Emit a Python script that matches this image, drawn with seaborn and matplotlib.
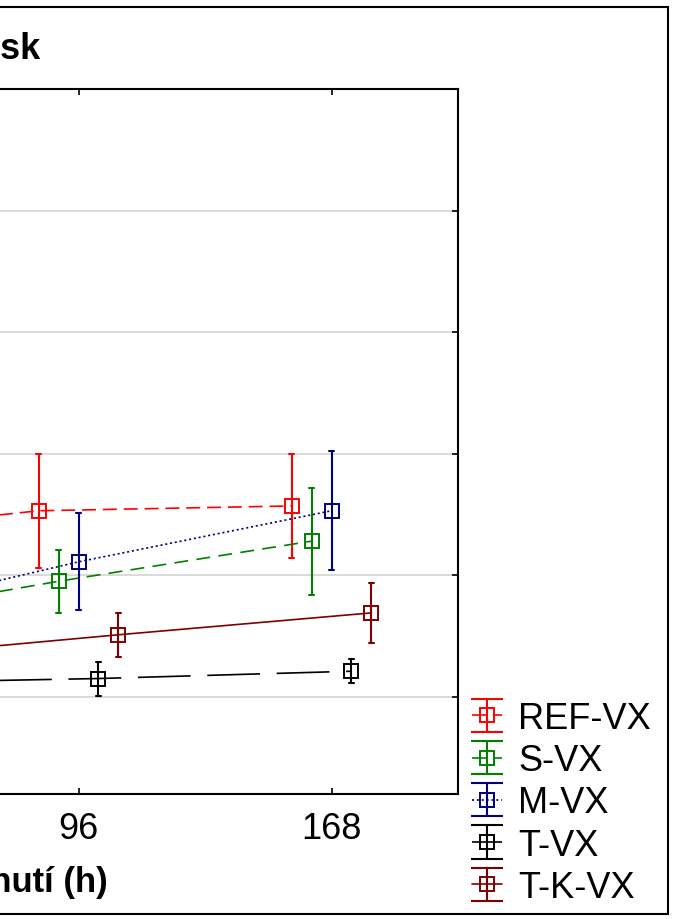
import matplotlib.pyplot as plt
import matplotlib.patches as patches
import pandas as pd
import seaborn as sns
from matplotlib.collections import LineCollection
from matplotlib.container import ErrorbarContainer
from matplotlib.legend_handler import HandlerErrorbar
from matplotlib.lines import Line2D

# data (mean and +/- error per time)
times = ['48', '96', '168']
time_labels = ['', '96', '168']
groups = ['REF-VX', 'S-VX', 'M-VX', 'T-VX', 'T-K-VX']

ref_mean = [2.31, 2.53, 2.57]
ref_err = [0.30, 0.47, 0.43]
s_mean = [1.59, 1.95, 2.28]
s_err = [0.20, 0.26, 0.44]
m_mean = [1.62, 2.11, 2.53]
m_err = [0.30, 0.40, 0.49]
t_mean = [1.11, 1.15, 1.21]
t_err = [0.10, 0.14, 0.10]
tk_mean = [1.32, 1.51, 1.69]
tk_err = [0.15, 0.18, 0.25]

y_ticks = [1, 2, 3, 4, 5, 6]

colors = ['#ff0000', '#008000', '#000080', '#000000', '#800000']
line_styles = [(0, (10, 5)), (0, (10, 6)), (0, (1.5, 2)), (0, (38, 12)), '-']

# long form: two rows per point (mean - err, mean + err), so mean and min/max give the bar
rows = []
all_means = [ref_mean, s_mean, m_mean, t_mean, tk_mean]
all_errs = [ref_err, s_err, m_err, t_err, tk_err]
for g, means, errs in zip(groups, all_means, all_errs):
    for t, m, e in zip(times, means, errs):
        rows.append({'cas': t, 'skupina': g, 'lesk': m - e})
        rows.append({'cas': t, 'skupina': g, 'lesk': m + e})
df = pd.DataFrame(rows)

sns.set_style('ticks')
plt.rcParams['font.family'] = ['Liberation Sans', 'DejaVu Sans']
plt.rcParams['lines.scale_dashes'] = False
plt.rcParams['text.color'] = 'black'
plt.rcParams['axes.labelcolor'] = 'black'

fig = plt.figure(figsize=(6.8, 9.2), dpi=100)
ax = fig.add_axes([-301 / 680, 1 - 795 / 920, 759 / 680, 705 / 920])

sns.pointplot(data=df, x='cas', y='lesk', hue='skupina', order=times, hue_order=groups,
              palette=colors, estimator='mean', errorbar=lambda v: (v.min(), v.max()),
              dodge=0.316, markers='s', linestyles=line_styles, capsize=0.02,
              err_kws={'linewidth': 1.5}, markersize=10, markeredgewidth=1.4,
              markerfacecolor='none', linewidth=1.2, legend=False, ax=ax)

ax.set_xlim(-0.5, 2.5)
ax.set_ylim(0.2, 6.0)
ax.set_xticks(range(len(times)))
ax.set_xticklabels(time_labels)
ax.set_yticks(y_ticks)
ax.set_yticklabels([])
ax.set_xlabel('')
ax.set_ylabel('')
ax.yaxis.grid(True, color='#d3d3d3', linewidth=1.2)
ax.set_axisbelow(True)
ax.tick_params(direction='in', top=True, right=True, length=4, width=1.2,
               labelsize=26, pad=12, colors='black')
for sp in ax.spines.values():
    sp.set_linewidth(1.5)
    sp.set_color('black')

# outer frame of the figure
fig.patches.append(patches.Rectangle((-0.5, 5 / 920), 0.5 + 668 / 680, 907 / 920,
                                     transform=fig.transFigure, fill=False,
                                     edgecolor='black', linewidth=1.5))

fig.text(41 / 680, 1 - 59 / 920, 'Lesk', ha='right', va='baseline',
         fontsize=26, fontweight='bold')
fig.text(108 / 680, 1 - 892 / 920, 'Doba schnutí (h)', ha='right', va='baseline',
         fontsize=25, fontweight='bold')

# legend with error bar style handles
handles = []
for c, ls in zip(colors, line_styles):
    ln = Line2D([], [], color=c, linestyle=ls, linewidth=1.2, marker='s', markersize=9.4,
                markerfacecolor='none', markeredgewidth=1.4)
    cap = Line2D([], [], color=c, marker='_', markersize=23, markeredgewidth=1.5, linestyle='none')
    bar = LineCollection([], colors=c, linewidths=1.5)
    handles.append(ErrorbarContainer((ln, (cap, cap), (bar,)), has_xerr=False, has_yerr=True))

fig.legend(handles, groups, loc='center left', bbox_to_anchor=(472 / 680, 1 - 804 / 920),
           frameon=False, fontsize=26, handlelength=0.83, handletextpad=0.45,
           labelspacing=0.2, borderpad=0, borderaxespad=0,
           handler_map={ErrorbarContainer: HandlerErrorbar(xerr_size=0.46)})

fig.savefig('out.png', dpi=100)
